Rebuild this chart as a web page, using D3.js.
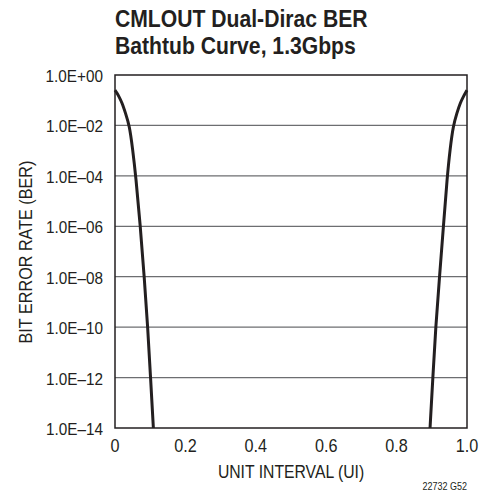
<!DOCTYPE html>
<meta charset="utf-8">
<head>
<script src="https://d3js.org/d3.v7.min.js"></script>
<style>
body { margin: 0; background: #fff; }
svg { font-family: "Liberation Sans", Arial, sans-serif; }
</style>
</head>
<body>
<script>
    // values
    var titleLines = ["CMLOUT Dual-Dirac BER", "Bathtub Curve, 1.3Gbps"]
    var xTicks = [0, 0.2, 0.4, 0.6, 0.8, 1.0]
    var yTicks = [0, -2, -4, -6, -8, -10, -12, -14]   // log10(BER)
    var yTickLabels = ["1.0E+00", "1.0E\u201302", "1.0E\u201304", "1.0E\u201306", "1.0E\u201308", "1.0E\u201310", "1.0E\u201312", "1.0E\u201314"]

    // left edge of the bathtub
    var leftUI  = [0, 0.005, 0.01, 0.02, 0.03, 0.041, 0.05, 0.059, 0.072, 0.083, 0.093, 0.101, 0.109]
    var leftBER = [0.25, 0.2, 0.15, 0.08, 0.03, 1e-2, 1.2e-3, 1e-4, 1e-6, 1e-8, 1e-10, 1e-12, 1e-14]
    // right edge of the bathtub
    var rightUI  = [0.895, 0.903, 0.911, 0.922, 0.933, 0.944, 0.952, 0.961, 0.971, 0.981, 0.991, 0.996, 1.0]
    var rightBER = [1e-14, 1e-12, 1e-10, 1e-8, 1e-6, 1e-4, 1.2e-3, 1e-2, 0.03, 0.08, 0.15, 0.2, 0.25]

    var width = 480, height = 500
    var margin = {top: 75, right: 13, bottom: 72, left: 115}
    var ink = "#231f20"
    var squeeze = 0.9   // condensed look

    var svg = d3.select("body").append("svg")
      .attr("width", width)
      .attr("height", height)

    var x = d3.scaleLinear()
      .domain([0, 1])
      .range([margin.left, width - margin.right])

    var y = d3.scaleLog()
      .domain([1e-14, 1])
      .range([height - margin.bottom, margin.top])

    // narrow text helper
    function label(g, tx, ty, str, size, anchor, rot) {
      return g.append("text")
        .attr("transform", `translate(${tx},${ty})` + (rot ? ` rotate(${rot})` : "") + ` scale(${squeeze},1)`)
        .attr("text-anchor", anchor || "start")
        .attr("font-size", size)
        .attr("fill", ink)
        .text(str)
    }

    // title
    titleLines.forEach((t, i) => {
      label(svg, margin.left, 27 + i * 27, t, 23.5).attr("font-weight", "bold")
    })

    // grid lines
    svg.append("g")
      .selectAll("line")
      .data(yTicks.slice(1, -1))
      .join("line")
        .attr("x1", margin.left)
        .attr("x2", width - margin.right)
        .attr("y1", d => y(Math.pow(10, d)))
        .attr("y2", d => y(Math.pow(10, d)))
        .attr("stroke", "#6d6e71")
        .attr("stroke-width", 1.2)

    // frame
    svg.append("rect")
      .attr("x", margin.left)
      .attr("y", margin.top)
      .attr("width", width - margin.right - margin.left)
      .attr("height", height - margin.bottom - margin.top)
      .attr("fill", "none")
      .attr("stroke", ink)
      .attr("stroke-width", 1.5)

    // y tick labels
    var gy = svg.append("g")
    yTicks.forEach((d, i) => {
      label(gy, 103, y(Math.pow(10, d)) + 7, yTickLabels[i], 17, "end")
    })

    // x tick labels
    var gx = svg.append("g")
    xTicks.forEach(d => {
      label(gx, x(d), 452, d === 0 ? "0" : d.toFixed(1), 18, "middle")
    })

    // axis titles
    label(svg, (margin.left + width - margin.right) / 2, 478, "UNIT INTERVAL (UI)", 17.5, "middle")
    label(svg, 32, 252, "BIT ERROR RATE (BER)", 18, "middle", -90)
    label(svg, width - margin.right, 490, "22732 G52", 10, "end")

    // curves
    var lineY = d3.line()
      .x(d => x(d[0]))
      .y(d => y(d[1]))
      .curve(d3.curveBasis)

    svg.append("path")
      .datum(leftUI.map((u, i) => [u, leftBER[i]]))
      .attr("d", lineY)
      .attr("fill", "none")
      .attr("stroke", ink)
      .attr("stroke-width", 3)

    svg.append("path")
      .datum(rightUI.map((u, i) => [u, rightBER[i]]))
      .attr("d", lineY)
      .attr("fill", "none")
      .attr("stroke", ink)
      .attr("stroke-width", 3)
</script>
</body>
